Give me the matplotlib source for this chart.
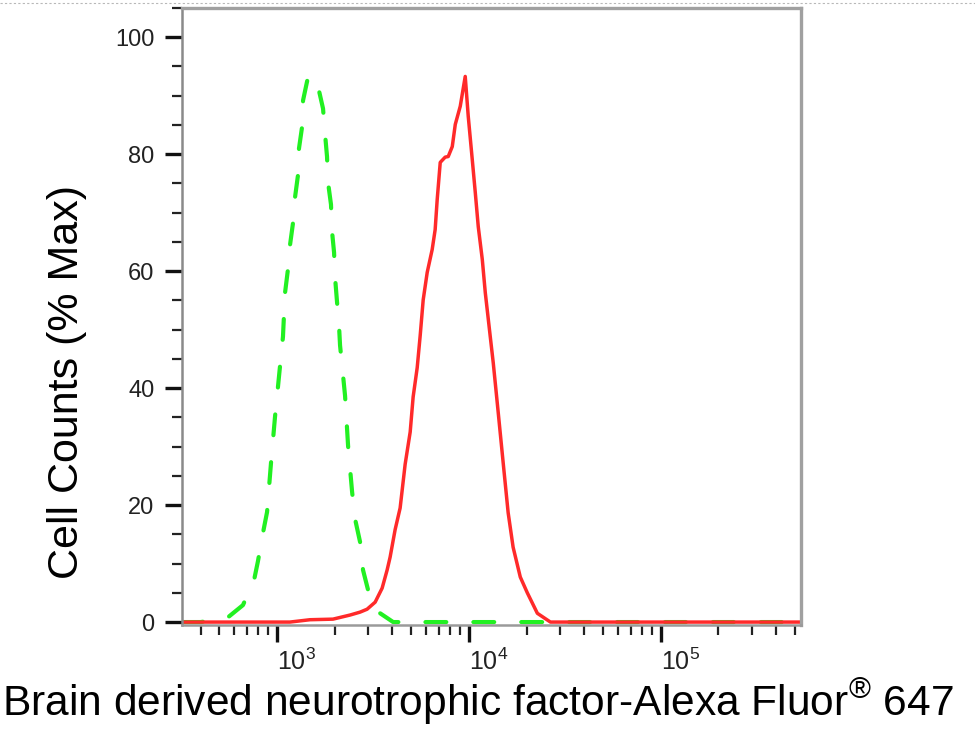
"""
Flow cytometry overlay: BDNF-Alexa Fluor 647 staining vs. isotype control.
"""

import matplotlib
matplotlib.use('Agg')
import matplotlib.pyplot as plt
from matplotlib.lines import Line2D
from matplotlib.ticker import LogLocator, MultipleLocator, FixedLocator

plt.rcParams['font.family'] = ['Liberation Sans', 'DejaVu Sans']
plt.rcParams['mathtext.fontset'] = 'custom'
plt.rcParams['mathtext.rm'] = 'Liberation Sans'

# isotype control (green dashed), fluorescence intensity vs % max
ctrl_x = [320, 400, 550, 665, 760, 796, 845, 888, 931, 977, 1037, 1075, 1101,
          1141, 1169, 1212, 1242, 1287, 1303, 1351, 1368, 1452, 1523, 1637,
          1739, 1782, 1824, 1846, 1913, 1937, 1985, 2009, 2056, 2108, 2133,
          2212, 2265, 2349, 2464, 2555, 2712, 2810, 2985, 3451, 4036, 6000,
          20000, 100000, 540000]
ctrl_y = [0, 0, 0.7, 2.9, 7.2, 10.4, 15.2, 18.8, 27.2, 35.1, 43.7, 48.8, 56.2,
          60.3, 64.4, 68.2, 72.6, 76.4, 81.0, 84.6, 89.2, 93.2, 93.5, 91.6,
          87.8, 83.4, 79.6, 75.2, 71.4, 66.8, 63.2, 58.9, 54.8, 50.5, 47.3,
          42.1, 38.7, 30.1, 22.3, 17.6, 13.7, 8.9, 5.5, 1.5, 0, 0,
          0, 0, 0]

# BDNF stained cells (red solid)
bdnf_x = [320, 1169, 1486, 1959, 2404, 2712, 2951, 3250, 3535, 3753, 3890,
          4131, 4387, 4660, 4950, 5129, 5385, 5582, 5787, 6073, 6446, 6680,
          6848, 7100, 7535, 7815, 8203, 8506, 9029, 9584, 9936, 10427, 10810,
          11208, 11763, 12195, 12944, 13419, 14244, 15118, 16045, 17030,
          18560, 20196, 22781, 26652, 540000]
bdnf_y = [0, 0, 0.4, 0.5, 1.2, 1.7, 2.2, 3.4, 5.8, 8.9, 11.1,
          15.8, 19.5, 27.0, 32.5, 38.5, 43.5, 49.0, 55.1, 59.8, 63.7, 67.1,
          72.3, 78.6, 79.5, 79.6, 81.3, 85.1, 88.2, 93.3, 86.5, 79.1, 73.5,
          67.6, 62.0, 56.3, 48.8, 44.3, 35.8, 27.2, 18.7, 12.8,
          7.7, 5.0, 1.5, 0, 0]

y_ticks = [0, 20, 40, 60, 80, 100]

fig = plt.figure(figsize=(9.75, 7.54), dpi=100)
ax = fig.add_axes([0.1867, 0.1711, 0.6349, 0.8183])

ax.plot(ctrl_x, ctrl_y, color='#22f022', lw=3, dashes=(5, 6.5),
        solid_capstyle='round', dash_capstyle='round')
ax.plot(bdnf_x, bdnf_y, color='#ff2a2a', lw=2.5)

ax.set_xscale('log')
ax.set_xlim(320, 540000)
ax.set_ylim(-0.5, 105)

ax.xaxis.set_major_locator(FixedLocator([1e3, 1e4, 1e5]))
ax.xaxis.set_minor_locator(LogLocator(base=10, subs=range(2, 10), numticks=20))
ax.yaxis.set_major_locator(FixedLocator(y_ticks))
ax.yaxis.set_minor_locator(MultipleLocator(5))

ax.tick_params(axis='both', which='major', direction='out', length=12,
               width=2.4, color='#111111', labelcolor='#222222')
ax.tick_params(axis='both', which='minor', direction='out', length=7,
               width=1.6, color='#222222')
ax.tick_params(axis='y', which='major', pad=8, labelsize=17)
ax.tick_params(axis='x', which='major', pad=5, labelsize=18)
for lab in ax.get_xticklabels():
    lab.set_horizontalalignment('left')

for side in ['top', 'right']:
    ax.spines[side].set_color('#a0a0a0')
    ax.spines[side].set_linewidth(2.4)
ax.spines['left'].set_color('#8a8a8a')
ax.spines['left'].set_linewidth(1.8)
ax.spines['bottom'].set_color('#9a9a9a')
ax.spines['bottom'].set_linewidth(1.8)

fig.text(67 / 975, 1 - 382 / 754, 'Cell Counts (% Max)', rotation=90,
         ha='center', va='center', fontsize=31, color='black')
fig.text(0.002, 1 - 716 / 754,
         r'Brain derived neurotrophic factor-Alexa Fluor$^{\mathregular{®}}$ 647',
         ha='left', va='baseline', fontsize=30.6, color='black')

# dotted guide line along the top edge
fig.add_artist(Line2D([0, 1], [1 - 3 / 754, 1 - 3 / 754], transform=fig.transFigure,
                      color='#b8b8b8', lw=0.8, ls=(0, (2, 2))))

plt.savefig('out.png', dpi=100)
